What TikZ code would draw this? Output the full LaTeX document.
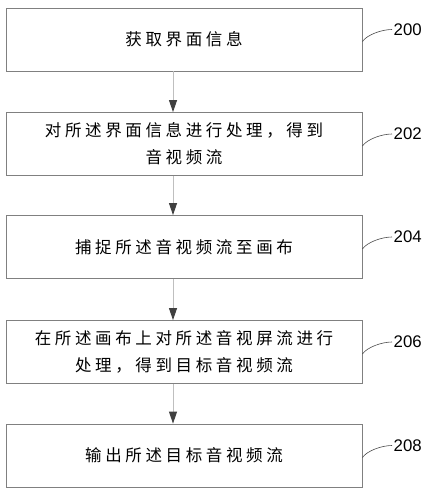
\documentclass[tikz,border=0pt]{standalone}
\usepackage{fontspec}
\setmainfont{Liberation Sans}
\newfontfamily\cjk[LetterSpace=22]{Noto Sans CJK SC}
\usetikzlibrary{arrows.meta}
\begin{document}
\begin{tikzpicture}[x=1pt,y=-1pt,
  box/.style={draw=black!50, line width=0.8pt, minimum width=356pt, minimum height=63pt,
    inner sep=0pt, align=center, font=\cjk\fontsize{16.5}{27}\selectfont},
  conn/.style={draw=black!25, line width=1pt, -{Triangle[length=12pt,width=8pt,color=black!75]}},
  lead/.style={draw=black!70, line width=0.6pt},
  lab/.style={font=\fontsize{16.8}{18}\selectfont, inner sep=1.5pt, anchor=west}]
\fill[white] (0,0) rectangle (430,492);
\useasboundingbox (0,0) rectangle (430,492);
% boxes
\node[box] (b0) at (184,39.5) {获取界面信息};
\node[box] (b1) at (184,144) {对所述界面信息进行处理，得到\\音视频流};
\node[box] (b2) at (184,247) {捕捉所述音视频流至画布};
\node[box] (b3) at (184,352) {在所述画布上对所述音视屏流进行\\处理，得到目标音视频流};
\node[box] (b4) at (184,455.5) {输出所述目标音视频流};
% connectors
\draw[conn] ([xshift=-11pt]b0.south) -- ([xshift=-11pt]b1.north);
\draw[conn] ([xshift=-11pt]b1.south) -- ([xshift=-11pt]b2.north);
\draw[conn] ([xshift=-11pt]b2.south) -- ([xshift=-11pt]b3.north);
\draw[conn] ([xshift=-11pt]b3.south) -- ([xshift=-11pt]b4.north);
% labels
\node[lab] (l0) at (392,29.5) {200};
\node[lab] (l1) at (392,134) {202};
\node[lab] (l2) at (392,237) {204};
\node[lab] (l3) at (392,342) {206};
\node[lab] (l4) at (392,445.5) {208};
\foreach \i in {0,...,4}{
  \draw[lead] ([yshift=-2pt]b\i.east) .. controls +(5,-7) and +(-10,0) .. (l\i.west);
}
\end{tikzpicture}
\end{document}
